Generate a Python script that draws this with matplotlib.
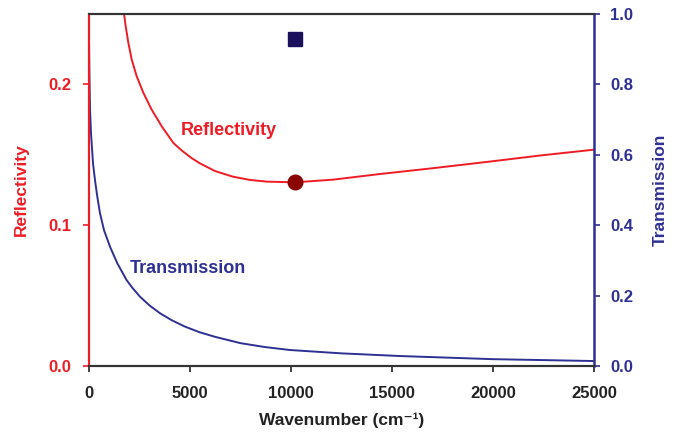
import numpy as np
import matplotlib
matplotlib.use('Agg')
import matplotlib.pyplot as plt

plt.rcParams['font.family'] = ['Liberation Sans', 'DejaVu Sans']
plt.rcParams['font.weight'] = 'bold'

# reflectividad (eje izquierdo)
onda_r = [1733, 1815, 1947, 2112, 2360, 2690, 3100, 3600, 4175, 4600, 5080, 5490,
          6240, 7130, 7970, 8800, 10200, 12080, 14400, 17000, 19700, 22300, 25000]
refl = [0.2505, 0.2415, 0.2297, 0.2178, 0.2059, 0.1941, 0.1822, 0.1703, 0.1585,
        0.1530, 0.1477, 0.1440, 0.1385, 0.1345, 0.1322, 0.1310, 0.1305, 0.1324,
        0.1364, 0.1405, 0.1450, 0.1495, 0.1537]

# transmision (eje derecho)
onda_t = [0, 20, 50, 100, 200, 297, 411, 545, 743, 1040, 1400, 1865, 2150, 2525,
          3000, 3515, 4100, 4750, 5490, 6240, 7500, 8700, 9950, 12500, 15400,
          20000, 25000]
trans = [0.93, 0.83, 0.73, 0.66, 0.575, 0.528, 0.481, 0.434, 0.386, 0.339, 0.292,
         0.244, 0.222, 0.197, 0.172, 0.150, 0.130, 0.112, 0.0957, 0.083, 0.065,
         0.054, 0.0455, 0.036, 0.0284, 0.0195, 0.0142]

# puntos marcados
punto_x = 10200
punto_r = 0.1305
punto_t = 0.928

rojo = '#ee1c25'
azul = '#2e3192'

fig = plt.figure(figsize=(6.81, 4.41), dpi=100)
ax = fig.add_axes([0.1307, 0.170, 0.7415, 0.798])
ax2 = ax.twinx()

ax.plot(onda_r, refl, '-', color=rojo, lw=1.4)
ax.plot([punto_x], [punto_r], 'o', color='#8b0000', ms=10.5, zorder=5)
ax2.plot(onda_t, trans, '-', color=azul, lw=1.4)
ax2.plot([punto_x], [punto_t], 's', color='#1a105c', ms=9.5, zorder=5)

ax.set_xlim(0, 25000)
ax.set_ylim(0, 0.25)
ax2.set_ylim(0, 1.0)

ax.set_xticks([0, 5000, 10000, 15000, 20000, 25000])
ax.set_yticks([0.0, 0.1, 0.2])
ax.set_yticklabels(['0.0', '0.1', '0.2'])
ax2.set_yticks([0.0, 0.2, 0.4, 0.6, 0.8, 1.0])
ax2.set_yticklabels(['0.0', '0.2', '0.4', '0.6', '0.8', '1.0'])

ax.tick_params(axis='x', direction='out', length=4.5, width=1.2, pad=10,
               labelsize=12, colors='#222222', top=False)
ax.tick_params(axis='y', direction='out', length=4.5, width=1.2, pad=8,
               labelsize=12, colors=rojo)
ax2.tick_params(axis='y', direction='out', length=4.5, width=1.2, pad=7,
                labelsize=12, colors=azul)

for a in (ax, ax2):
    a.spines['top'].set_color('#333333')
    a.spines['bottom'].set_color('#333333')
    a.spines['top'].set_linewidth(1.5)
    a.spines['bottom'].set_linewidth(1.5)
ax2.spines['left'].set_color(rojo)
ax2.spines['left'].set_linewidth(1.5)
ax2.spines['right'].set_color(azul)
ax2.spines['right'].set_linewidth(1.8)
ax.spines['left'].set_color(rojo)
ax.spines['left'].set_linewidth(1.5)
ax.spines['right'].set_visible(False)

ax.set_xlabel('Wavenumber (cm\u207b\u00b9)', fontsize=12.5, fontweight='bold',
              color='#222222', labelpad=8)
ax.set_ylabel('Reflectivity', fontsize=12.5, fontweight='bold', color=rojo, labelpad=14)
ax2.set_ylabel('Transmission', fontsize=12.5, fontweight='bold', color=azul, labelpad=14)

ax.text(6930, 0.167, 'Reflectivity', color=rojo, fontsize=13, fontweight='bold',
        ha='center', va='center')
ax2.text(4900, 0.278, 'Transmission', color=azul, fontsize=13, fontweight='bold',
         ha='center', va='center')

fig.savefig('out.png', dpi=100)
